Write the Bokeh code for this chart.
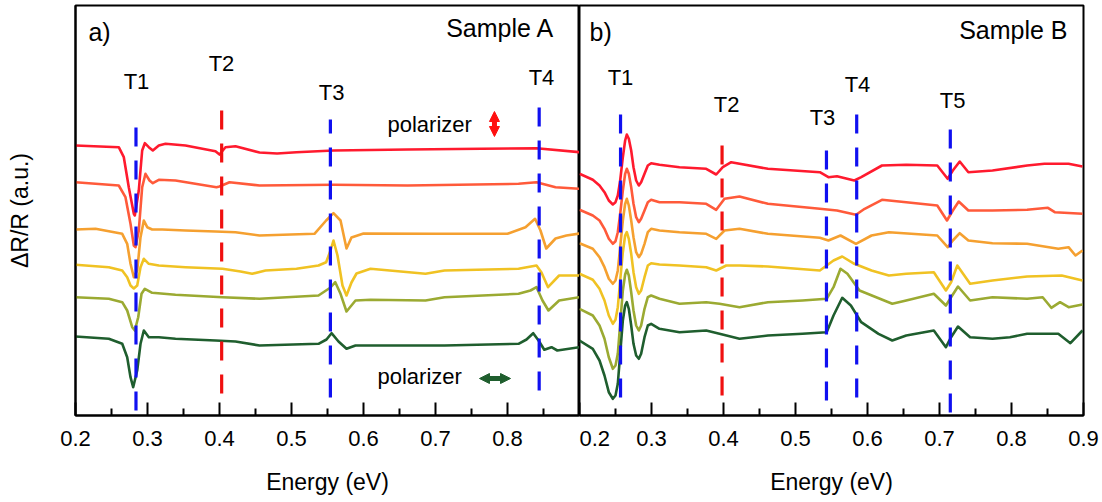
from bokeh.plotting import figure
from bokeh.layouts import row
from bokeh.models import FixedTicker, Arrow, NormalHead, Range1d
from bokeh.core.properties import value
from bokeh.embed import file_html
from bokeh.resources import INLINE

FONT = "Liberation Sans"

# ---------------- Sample A (left panel) ----------------
A_red_E = [0.2000, 0.2601, 0.2671, 0.2740, 0.2810, 0.2824, 0.2879, 0.2926, 0.2963, 0.3018, 0.3074, 0.3157, 0.3250, 0.3528, 0.3944, 0.4000, 0.4083, 0.4222, 0.4556, 0.4800, 0.5069, 0.5583, 0.6611, 0.7639, 0.8403, 0.9000]
A_red_R = [27.0, 26.83, 25.83, 22.83, 20.17, 20.0, 22.5, 26.5, 27.23, 26.83, 26.5, 27.0, 27.17, 27.0, 26.43, 26.1, 26.83, 26.93, 26.3, 26.2, 26.33, 26.5, 26.6, 26.67, 26.73, 26.33]

A_ored_E = [0.2000, 0.2601, 0.2694, 0.2764, 0.2810, 0.2833, 0.2879, 0.2926, 0.2972, 0.3028, 0.3074, 0.3157, 0.3389, 0.3958, 0.4000, 0.4139, 0.4556, 0.5583, 0.6611, 0.8153, 0.8403, 0.8667, 0.9000]
A_ored_R = [23.33, 23.0, 21.83, 19.17, 17.0, 16.83, 18.5, 22.83, 24.17, 23.5, 23.23, 23.57, 23.5, 22.83, 22.9, 23.33, 23.0, 23.07, 23.0, 23.17, 23.33, 22.83, 22.67]

A_orange_E = [0.2000, 0.2278, 0.2463, 0.2649, 0.2718, 0.2764, 0.2810, 0.2857, 0.2903, 0.2949, 0.2996, 0.3065, 0.3204, 0.3528, 0.3944, 0.4222, 0.4556, 0.5319, 0.5481, 0.5583, 0.5681, 0.5764, 0.5833, 0.6000, 0.7000, 0.8000, 0.8250, 0.8383, 0.8458, 0.8538, 0.8667, 0.8819, 0.9000]
A_orange_R = [18.6, 18.67, 18.43, 18.17, 17.17, 15.17, 13.83, 14.5, 17.83, 19.5, 18.83, 18.6, 18.6, 18.5, 18.4, 18.33, 18.0, 18.17, 19.5, 20.23, 19.5, 16.7, 17.8, 18.2, 18.17, 18.17, 18.83, 19.67, 18.5, 16.7, 17.7, 18.0, 18.2]

A_yellow_E = [0.2000, 0.2463, 0.2649, 0.2718, 0.2764, 0.2810, 0.2857, 0.2903, 0.2949, 0.3018, 0.3157, 0.3528, 0.4042, 0.4292, 0.4453, 0.4639, 0.5069, 0.5375, 0.5481, 0.5542, 0.5583, 0.5639, 0.5708, 0.5764, 0.5833, 0.5903, 0.6097, 0.6861, 0.7125, 0.8153, 0.8403, 0.8472, 0.8563, 0.8717, 0.9000]
A_yellow_R = [15.07, 14.83, 14.5, 13.83, 13.0, 12.7, 13.0, 14.83, 15.67, 15.17, 15.0, 14.83, 14.67, 14.4, 14.17, 14.5, 14.67, 15.0, 15.33, 16.5, 17.5, 16.0, 13.0, 12.0, 13.3, 14.2, 14.67, 14.17, 14.5, 14.67, 15.0, 14.3, 12.83, 14.0, 14.0]

A_olive_E = [0.2000, 0.2463, 0.2649, 0.2718, 0.2788, 0.2824, 0.2871, 0.2917, 0.2963, 0.3065, 0.3389, 0.4042, 0.4556, 0.5375, 0.5542, 0.5608, 0.5681, 0.5764, 0.5889, 0.6097, 0.6861, 0.7125, 0.8153, 0.8319, 0.8403, 0.8486, 0.8569, 0.8717, 0.9000]
A_olive_R = [11.83, 11.67, 11.33, 10.5, 8.83, 8.5, 9.83, 12.17, 12.67, 12.27, 12.07, 11.83, 11.67, 12.0, 12.8, 13.33, 12.17, 10.4, 11.5, 11.57, 11.5, 11.83, 12.17, 12.5, 12.83, 11.5, 10.5, 11.5, 11.83]

A_green_E = [0.2000, 0.2463, 0.2649, 0.2718, 0.2764, 0.2801, 0.2857, 0.2903, 0.2949, 0.3018, 0.3157, 0.3389, 0.3944, 0.4222, 0.4556, 0.5375, 0.5486, 0.5556, 0.5653, 0.5764, 0.5889, 0.7125, 0.8153, 0.8264, 0.8357, 0.8431, 0.8511, 0.8611, 0.8692, 0.9000]
A_green_R = [7.9, 7.67, 7.17, 5.83, 3.83, 2.83, 4.5, 7.17, 8.5, 7.83, 7.83, 7.67, 7.5, 7.4, 7.0, 7.17, 7.6, 8.23, 7.4, 6.67, 7.0, 7.0, 7.17, 7.6, 8.23, 7.5, 6.57, 6.83, 6.5, 6.83]

# transitions, Sample A
A_T_names = ["T1", "T2", "T3", "T4"]
A_T_energy = [0.284, 0.403, 0.554, 0.844]
A_T_color = ["#1010F0", "#F01010", "#1010F0", "#1010F0"]
A_T_top = [29.1, 31.7, 29.6, 30.9]
A_T_bottom = [0.5, 2.2, 1.8, 2.5]
A_T_label_E = [0.2847, 0.4028, 0.5556, 0.8472]
A_T_label_y = [33.4, 35.2, 32.3, 33.8]

# ---------------- Sample B (right panel) ----------------
B_red_E = [0.2000, 0.2185, 0.2278, 0.2347, 0.2407, 0.2463, 0.2500, 0.2532, 0.2565, 0.2602, 0.2634, 0.2657, 0.2685, 0.2718, 0.2750, 0.2787, 0.2824, 0.2856, 0.2903, 0.2949, 0.2995, 0.3111, 0.3389, 0.3760, 0.3899, 0.3990, 0.4107, 0.4617, 0.5338, 0.5457, 0.5576, 0.5817, 0.5913, 0.6201, 0.6538, 0.6969, 0.7113, 0.7185, 0.7281, 0.7401, 0.7736, 0.8217, 0.8457, 0.8792, 0.8986]
B_red_R = [24.17, 23.57, 23.0, 22.33, 21.5, 21.1, 21.33, 22.0, 23.5, 25.83, 27.5, 28.1, 27.67, 26.5, 24.83, 23.5, 23.0, 23.33, 24.17, 25.0, 25.23, 25.07, 24.83, 24.67, 24.1, 24.83, 25.33, 24.67, 24.33, 23.83, 23.93, 23.5, 23.83, 25.0, 25.07, 25.0, 23.67, 24.5, 25.4, 24.33, 24.5, 25.0, 25.17, 25.17, 24.9]

B_ored_E = [0.2000, 0.2185, 0.2278, 0.2347, 0.2407, 0.2463, 0.2500, 0.2532, 0.2565, 0.2602, 0.2634, 0.2657, 0.2685, 0.2718, 0.2750, 0.2787, 0.2824, 0.2856, 0.2903, 0.2949, 0.2995, 0.3111, 0.3389, 0.3760, 0.3899, 0.4014, 0.4222, 0.4617, 0.5338, 0.5576, 0.5840, 0.5961, 0.6201, 0.6538, 0.6969, 0.7104, 0.7185, 0.7267, 0.7401, 0.7736, 0.8217, 0.8506, 0.8601, 0.8986]
B_ored_R = [20.57, 20.0, 19.5, 18.67, 17.67, 17.17, 17.43, 18.33, 20.17, 22.5, 24.17, 24.67, 24.17, 22.83, 21.17, 19.83, 19.33, 19.67, 20.5, 21.33, 21.57, 21.33, 21.33, 21.17, 20.57, 21.67, 21.9, 21.17, 20.67, 20.5, 20.07, 20.67, 21.57, 21.33, 21.0, 19.5, 20.5, 21.4, 20.5, 20.5, 20.57, 20.77, 20.33, 20.17]

B_orange_E = [0.2000, 0.2185, 0.2278, 0.2347, 0.2407, 0.2463, 0.2500, 0.2532, 0.2565, 0.2602, 0.2634, 0.2657, 0.2685, 0.2718, 0.2750, 0.2787, 0.2824, 0.2856, 0.2903, 0.2949, 0.2995, 0.3111, 0.3389, 0.3760, 0.3899, 0.4014, 0.4222, 0.4617, 0.5338, 0.5457, 0.5625, 0.5840, 0.6056, 0.6297, 0.6969, 0.7113, 0.7185, 0.7281, 0.7401, 0.7736, 0.8217, 0.8650, 0.8792, 0.8889, 0.8986]
B_orange_R = [17.23, 16.67, 15.83, 14.83, 13.67, 13.17, 13.5, 14.5, 16.83, 19.5, 21.17, 21.67, 21.0, 19.5, 17.83, 16.33, 15.83, 16.17, 17.17, 18.33, 18.67, 18.5, 18.33, 18.17, 17.67, 18.5, 18.67, 18.17, 17.77, 17.5, 18.0, 17.17, 18.0, 18.33, 18.0, 16.83, 17.5, 18.23, 17.5, 17.23, 17.17, 16.67, 16.83, 16.0, 16.5]

B_yellow_E = [0.2000, 0.2185, 0.2278, 0.2347, 0.2407, 0.2463, 0.2500, 0.2532, 0.2565, 0.2602, 0.2634, 0.2657, 0.2685, 0.2718, 0.2750, 0.2787, 0.2824, 0.2856, 0.2903, 0.2949, 0.2995, 0.3111, 0.3389, 0.3760, 0.3899, 0.4038, 0.4222, 0.4617, 0.5338, 0.5528, 0.5649, 0.5817, 0.6056, 0.6297, 0.6538, 0.6921, 0.7089, 0.7161, 0.7247, 0.7425, 0.7736, 0.8217, 0.8697, 0.8986]
B_yellow_R = [14.17, 13.57, 12.67, 11.5, 10.0, 9.17, 9.57, 10.83, 13.5, 16.33, 18.0, 18.33, 17.67, 16.17, 14.33, 12.83, 12.17, 12.5, 13.83, 15.0, 15.23, 15.1, 15.0, 14.83, 14.5, 15.0, 15.0, 14.9, 14.5, 15.5, 15.9, 15.17, 14.5, 14.0, 14.17, 14.33, 12.5, 13.33, 15.0, 13.17, 13.5, 13.9, 14.0, 13.5]

B_olive_E = [0.2000, 0.2185, 0.2278, 0.2347, 0.2407, 0.2463, 0.2500, 0.2532, 0.2565, 0.2602, 0.2634, 0.2657, 0.2685, 0.2718, 0.2750, 0.2787, 0.2824, 0.2856, 0.2903, 0.2949, 0.2995, 0.3111, 0.3389, 0.3760, 0.3944, 0.4222, 0.4617, 0.5097, 0.5433, 0.5528, 0.5625, 0.5721, 0.5889, 0.6344, 0.6538, 0.6921, 0.7089, 0.7161, 0.7257, 0.7425, 0.7736, 0.8217, 0.8433, 0.8553, 0.8674, 0.8793, 0.8986]
B_olive_R = [10.67, 10.0, 9.0, 7.67, 5.83, 4.67, 5.0, 6.17, 9.17, 12.5, 14.1, 14.57, 14.0, 12.33, 10.5, 9.0, 8.5, 9.0, 10.67, 11.83, 12.0, 11.67, 11.17, 11.33, 11.17, 10.83, 11.33, 11.5, 11.67, 12.83, 14.67, 14.17, 12.5, 11.17, 11.5, 12.17, 11.0, 11.83, 12.9, 11.5, 11.83, 11.67, 11.83, 10.77, 11.33, 10.83, 11.1]

B_green_E = [0.2000, 0.2185, 0.2278, 0.2347, 0.2407, 0.2463, 0.2500, 0.2532, 0.2565, 0.2602, 0.2634, 0.2657, 0.2685, 0.2718, 0.2750, 0.2787, 0.2824, 0.2856, 0.2903, 0.2949, 0.2995, 0.3111, 0.3389, 0.3760, 0.3944, 0.4222, 0.4617, 0.5097, 0.5433, 0.5528, 0.5649, 0.5769, 0.5913, 0.6153, 0.6344, 0.6538, 0.6921, 0.7089, 0.7161, 0.7257, 0.7425, 0.7736, 0.7978, 0.8217, 0.8650, 0.8818, 0.8986]
B_green_R = [7.5, 6.67, 5.5, 4.0, 2.33, 1.67, 2.0, 3.17, 6.17, 9.5, 11.0, 11.33, 10.67, 9.0, 7.17, 6.0, 5.67, 6.17, 7.83, 9.0, 9.17, 8.67, 8.33, 8.5, 8.17, 7.67, 8.0, 8.17, 8.33, 10.0, 11.77, 11.0, 9.33, 8.17, 7.5, 8.0, 8.5, 6.83, 7.83, 8.9, 7.83, 7.67, 7.83, 8.17, 8.17, 7.23, 8.5]

B_T_names = ["T1", "T2", "T3", "T4", "T5"]
B_T_energy = [0.257, 0.398, 0.543, 0.585, 0.715]
B_T_color = ["#1010F0", "#F01010", "#1010F0", "#1010F0", "#1010F0"]
B_T_top = [30.9, 28.2, 27.5, 31.3, 29.1]
B_T_bottom = [1.8, 2.0, 1.5, 1.8, 0.3]
B_T_label_E = [0.2569, 0.4042, 0.5375, 0.5861, 0.7181]
B_T_label_y = [33.8, 31.1, 29.8, 33.1, 31.5]

CURVE_COLORS = ["#FF1A2E", "#FF5A3A", "#F5A030", "#F0C223", "#9BAA32", "#1F5E2E"]

x_ticks = [0.2, 0.3, 0.4, 0.5, 0.6, 0.7, 0.8, 0.9]
x_minor = [0.25, 0.35, 0.45, 0.55, 0.65, 0.75, 0.85]


def make_panel(width, border_left, border_right, with_yaxis):
    p = figure(width=width, height=502, output_backend="svg", toolbar_location=None,
               x_range=Range1d(0.2, 0.9), y_range=Range1d(0, 41),
               min_border_left=border_left, min_border_right=border_right,
               min_border_top=5, min_border_bottom=87,
               y_axis_location="left" if with_yaxis else None)
    p.grid.visible = False
    p.outline_line_color = "black"
    p.outline_line_width = 2
    p.background_fill_color = "white"
    p.border_fill_color = "white"
    ax = p.xaxis[0]
    ax.axis_line_width = 2
    ax.axis_line_color = "black"
    ax.major_tick_in = 13
    ax.major_tick_out = 0
    ax.minor_tick_in = 7
    ax.minor_tick_out = 0
    ax.major_tick_line_width = 2
    ax.minor_tick_line_width = 2
    ax.major_label_text_font = FONT
    ax.major_label_text_font_size = "22px"
    ax.major_label_text_color = "black"
    ax.major_label_standoff = 15
    ax.axis_label = "Energy (eV)"
    ax.axis_label_text_font = FONT
    ax.axis_label_text_font_size = "23px"
    ax.axis_label_text_font_style = "normal"
    ax.axis_label_text_color = "black"
    ax.axis_label_standoff = 20
    if with_yaxis:
        ay = p.yaxis[0]
        ay.ticker = FixedTicker(ticks=[])
        ay.major_label_text_font_size = "0px"
        ay.major_tick_in = 0
        ay.major_tick_out = 0
        ay.minor_tick_in = 0
        ay.minor_tick_out = 0
        ay.axis_line_width = 2
        ay.axis_label = "ΔR/R (a.u.)"
        ay.axis_label_text_font = FONT
        ay.axis_label_text_font_size = "23px"
        ay.axis_label_text_font_style = "normal"
        ay.axis_label_text_color = "black"
        ay.axis_label_standoff = 43
    return p


pA = make_panel(579, 75, 0, True)
pA.xaxis[0].ticker = FixedTicker(ticks=x_ticks[:-1], minor_ticks=x_minor)
pB = make_panel(523, 0, 19, False)
pB.xaxis[0].ticker = FixedTicker(ticks=x_ticks, minor_ticks=x_minor)

A_curves = [(A_red_E, A_red_R), (A_ored_E, A_ored_R), (A_orange_E, A_orange_R),
            (A_yellow_E, A_yellow_R), (A_olive_E, A_olive_R), (A_green_E, A_green_R)]
B_curves = [(B_red_E, B_red_R), (B_ored_E, B_ored_R), (B_orange_E, B_orange_R),
            (B_yellow_E, B_yellow_R), (B_olive_E, B_olive_R), (B_green_E, B_green_R)]

for p, curves in ((pA, A_curves), (pB, B_curves)):
    for (e, r), c in zip(curves, CURVE_COLORS):
        p.line(e, r, line_color=c, line_width=2.6, line_join="round")

for p, en, col, top, bot, names, lx, ly in (
        (pA, A_T_energy, A_T_color, A_T_top, A_T_bottom, A_T_names, A_T_label_E, A_T_label_y),
        (pB, B_T_energy, B_T_color, B_T_top, B_T_bottom, B_T_names, B_T_label_E, B_T_label_y)):
    p.segment(x0=en, y0=bot, x1=en, y1=top, line_color=col, line_width=3.2, line_dash="19 14")
    p.text(x=lx, y=ly, text=names, text_font=value(FONT), text_font_size="22px",
           text_align="center", text_baseline="middle", text_color="black")

# panel tags and titles
pA.text(x=[0.218], y=[38.4], text=["a)"], text_font=value(FONT), text_font_size="25px",
        text_align="left", text_baseline="middle", text_color="black")
pA.text(x=[0.8653], y=[38.8], text=["Sample A"], text_font=value(FONT), text_font_size="25px",
        text_align="right", text_baseline="middle", text_color="black")
pB.text(x=[0.2139], y=[38.4], text=["b)"], text_font=value(FONT), text_font_size="25px",
        text_align="left", text_baseline="middle", text_color="black")
pB.text(x=[0.8778], y=[38.6], text=["Sample B"], text_font=value(FONT), text_font_size="25px",
        text_align="right", text_baseline="middle", text_color="black")

# polarizer annotations
pA.text(x=[0.6333, 0.6194], y=[29.1, 3.9], text=["polarizer", "polarizer"], text_font=value(FONT),
        text_font_size="22px", text_align="left", text_baseline="middle", text_color="black")
pA.add_layout(Arrow(x_start=0.7819, y_start=27.9, x_end=0.7819, y_end=30.4,
                    line_color="#FF1010", line_width=5,
                    start=NormalHead(size=10, fill_color="#FF1010", line_color="#FF1010"),
                    end=NormalHead(size=10, fill_color="#FF1010", line_color="#FF1010")))
pA.add_layout(Arrow(x_start=0.7611, y_start=3.7, x_end=0.8042, y_end=3.7,
                    line_color="#1F5E2E", line_width=5,
                    start=NormalHead(size=10, fill_color="#1F5E2E", line_color="#1F5E2E"),
                    end=NormalHead(size=10, fill_color="#1F5E2E", line_color="#1F5E2E")))

layout = row(pA, pB)
open("out.html", "w").write(file_html(layout, INLINE))
